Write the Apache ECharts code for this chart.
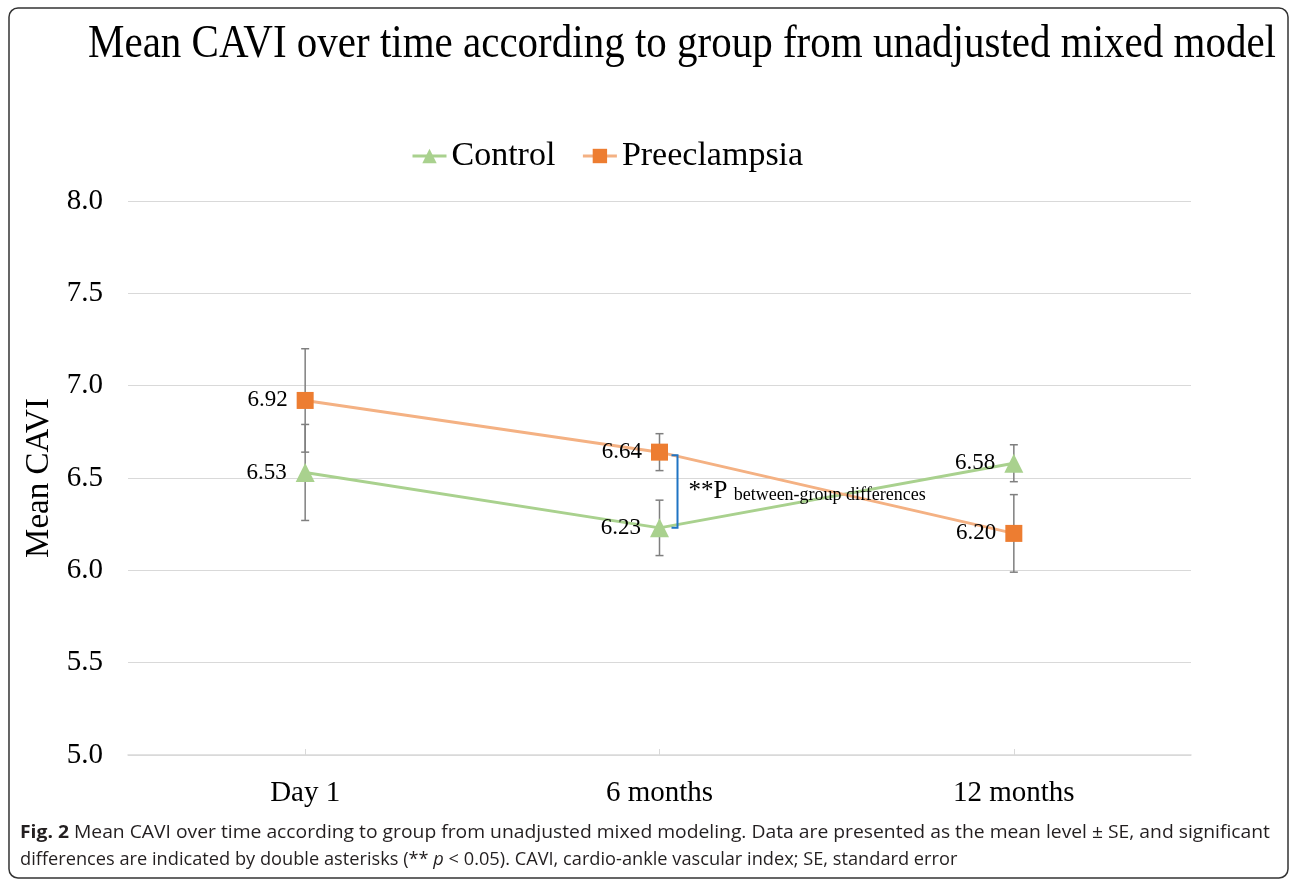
<!DOCTYPE html>
<html>
<head>
<meta charset="utf-8">
<script src="https://cdn.jsdelivr.net/npm/echarts@6/dist/echarts.min.js"></script>
<style>
html,body{margin:0;padding:0;background:#fff;}
#chart{width:1295px;height:879px;}
</style>
</head>
<body>
<div id="chart"></div>
<script>
// ---- data ----
const categories = ['Day 1', '6 months', '12 months'];
const controlMean = [6.53, 6.23, 6.58];
const controlSE = [0.26, 0.15, 0.10];
const preMean = [6.92, 6.64, 6.20];
const preSE = [0.28, 0.10, 0.21];
const yTicks = [5.0, 5.5, 6.0, 6.5, 7.0, 7.5, 8.0];
const bracketAt = { category: 1, top: 6.64, bottom: 6.23 };

const titleText = 'Mean CAVI over time according to group from unadjusted mixed model';
const capBold = 'Fig. 2';
const cap1 = ' Mean CAVI over time according to group from unadjusted mixed modeling. Data are presented as the mean level ± SE, and significant';
const cap2a = 'differences are indicated by double asterisks (** ';
const cap2b = 'p';
const cap2c = ' < 0.05). CAVI, cardio-ankle vascular index; SE, standard error';

// ---- helpers ----
const mctx = document.createElement('canvas').getContext('2d');
function tw(text, font) { mctx.font = font; return mctx.measureText(text).width; }

const SERIF = '"Liberation Serif", "Times New Roman", serif';
const SANS = '"Open Sans", "Noto Sans", sans-serif';

const titleFont = '47px ' + SERIF;
const titleScale = 1188 / tw(titleText, titleFont);
const capSize = 18;
const cap1W = tw(capBold, 'bold ' + capSize + 'px ' + SANS) + tw(cap1, capSize + 'px ' + SANS);
const cap1Scale = 1250 / cap1W;
const cap2W = tw(cap2a + cap2b, capSize + 'px ' + SANS) + tw(cap2c, capSize + 'px ' + SANS);
const cap2Scale = 938 / cap2W;

function errData(means, ses) { return means.map((m, i) => [i, m, ses[i]]); }

function renderErr(params, api) {
  const i = api.value(0), m = api.value(1), se = api.value(2);
  const top = api.coord([i, m + se]);
  const bot = api.coord([i, m - se]);
  const x = top[0];
  const cap = 4;
  const st = { stroke: '#7f7f7f', lineWidth: 1.5 };
  return {
    type: 'group',
    children: [
      { type: 'line', shape: { x1: x, y1: top[1], x2: x, y2: bot[1] }, style: st },
      { type: 'line', shape: { x1: x - cap, y1: top[1], x2: x + cap, y2: top[1] }, style: st },
      { type: 'line', shape: { x1: x - cap, y1: bot[1], x2: x + cap, y2: bot[1] }, style: st }
    ]
  };
}

function renderBracket(params, api) {
  const i = api.value(0);
  const t = api.coord([i, api.value(1)]);
  const b = api.coord([i, api.value(2)]);
  const x = t[0] + 18;
  const y1 = t[1] + 3, y2 = b[1];
  const st = { stroke: '#1f74c4', lineWidth: 2, fill: null };
  const mid = (t[1] + b[1]) / 2;
  return {
    type: 'group',
    children: [
      { type: 'polyline', shape: { points: [[x - 6, y1], [x, y1], [x, y2], [x - 6, y2]] }, style: st },
      {
        type: 'text', x: x + 11, y: mid,
        style: {
          text: '{a|**P }{b|between-group differences}',
          verticalAlign: 'middle', align: 'left',
          rich: {
            a: { fontFamily: SERIF, fontSize: 25, fill: '#000', verticalAlign: 'bottom', lineHeight: 28 },
            b: { fontFamily: SERIF, fontSize: 18, fill: '#000', verticalAlign: 'bottom', lineHeight: 28 }
          }
        }
      }
    ]
  };
}

const chart = echarts.init(document.getElementById('chart'), null, { renderer: 'canvas' });
chart.setOption({
  animation: false,
  backgroundColor: '#fff',
  grid: { left: 128, right: 104, top: 201, bottom: 124, containLabel: false },
  legend: {
    left: 406, top: 134,
    itemWidth: 34, itemHeight: 18, itemGap: 26,
    lineStyle: { width: 3 },
    textStyle: { fontFamily: SERIF, fontSize: 34, color: '#000' },
    data: ['Control', 'Preeclampsia']
  },
  xAxis: {
    type: 'category', data: categories, boundaryGap: true,
    axisLine: { lineStyle: { color: '#d9d9d9', width: 1.5 } },
    axisTick: { show: true, alignWithLabel: true, inside: true, length: 6, lineStyle: { color: '#d9d9d9' } },
    axisLabel: { fontFamily: SERIF, fontSize: 29, color: '#000', margin: 24 }
  },
  yAxis: {
    type: 'value', min: yTicks[0], max: yTicks[yTicks.length - 1], interval: 0.5,
    name: 'Mean CAVI', nameLocation: 'middle', nameGap: 69, nameRotate: 90,
    nameTextStyle: { fontFamily: SERIF, fontSize: 33, color: '#000' },
    axisLine: { show: false }, axisTick: { show: false },
    splitLine: { lineStyle: { color: '#d9d9d9', width: 1.2 } },
    axisLabel: { fontFamily: SERIF, fontSize: 29, color: '#000', margin: 25, formatter: v => v.toFixed(1) }
  },
  series: [
    { type: 'custom', name: 'errC', renderItem: renderErr, data: errData(controlMean, controlSE), encode: { x: 0, y: 1 }, z: 1, silent: true },
    { type: 'custom', name: 'errP', renderItem: renderErr, data: errData(preMean, preSE), encode: { x: 0, y: 1 }, z: 1, silent: true },
    {
      type: 'line', name: 'Control', data: controlMean, z: 3,
      symbol: 'triangle', symbolSize: 19,
      lineStyle: { color: '#a9d18e', width: 3 },
      itemStyle: { color: '#a9d18e' },
      label: { show: true, position: 'left', distance: 9, fontFamily: SERIF, fontSize: 23, color: '#000', formatter: p => p.value.toFixed(2) }
    },
    {
      type: 'line', name: 'Preeclampsia', data: preMean, z: 3,
      symbol: 'rect', symbolSize: 17,
      lineStyle: { color: '#f4b183', width: 3 },
      itemStyle: { color: '#ed7d31' },
      label: { show: true, position: 'left', distance: 9, fontFamily: SERIF, fontSize: 23, color: '#000', formatter: p => p.value.toFixed(2) }
    },
    { type: 'custom', name: 'bracket', renderItem: renderBracket, data: [[bracketAt.category, bracketAt.top, bracketAt.bottom]], encode: { x: 0, y: 1 }, z: 4, silent: true }
  ],
  graphic: [
    { type: 'rect', shape: { x: 9, y: 8, width: 1279, height: 870, r: 9 }, style: { stroke: '#333', lineWidth: 1.5, fill: null }, silent: true },
    { type: 'text', x: 88, y: 45, scaleX: titleScale, style: { text: titleText, font: titleFont, fill: '#000', verticalAlign: 'middle' } },
    {
      type: 'text', x: 20, y: 833, scaleX: cap1Scale,
      style: {
        text: '{b|' + capBold + '}' + cap1, fontFamily: SANS, fontSize: capSize, fill: '#231f20', verticalAlign: 'middle',
        rich: { b: { fontFamily: SANS, fontSize: capSize, fontWeight: 'bold', fill: '#231f20' } }
      }
    },
    {
      type: 'text', x: 20, y: 860, scaleX: cap2Scale,
      style: {
        text: cap2a + '{i|' + cap2b + '}' + cap2c, fontFamily: SANS, fontSize: capSize, fill: '#231f20', verticalAlign: 'middle',
        rich: { i: { fontFamily: SANS, fontSize: capSize, fontStyle: 'italic', fill: '#231f20' } }
      }
    }
  ]
});
</script>
</body>
</html>
